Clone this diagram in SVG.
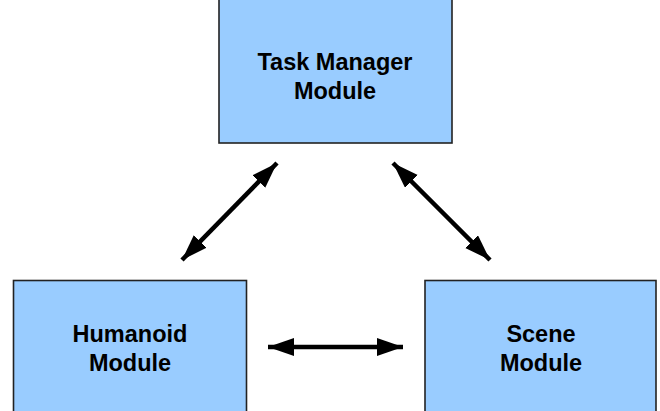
<svg xmlns="http://www.w3.org/2000/svg" width="660" height="411" viewBox="0 0 660 411">
<style>
.box{fill:#99ccff;stroke:#222;stroke-width:1.6}
.lbl{font-family:"Liberation Sans",Arial,sans-serif;font-weight:bold;font-size:23.5px;fill:#000;text-anchor:middle}
.conn{stroke:#000;stroke-width:4.5;fill:none;marker-start:url(#ah);marker-end:url(#ah)}
</style>
<defs>
<marker id="ah" markerUnits="userSpaceOnUse" markerWidth="27" markerHeight="19" refX="26" refY="9" orient="auto-start-reverse">
<path d="M0,0 L26,9 L0,18 z" fill="#000"/>
</marker>
</defs>
<rect width="660" height="411" fill="#fff"/>
<g id="task-manager">
<rect class="box" x="219" y="-5" width="233" height="148"/>
<text class="lbl" x="335" y="70">Task Manager</text>
<text class="lbl" x="335" y="99">Module</text>
</g>
<g id="humanoid">
<rect class="box" x="13.5" y="280.5" width="233" height="140"/>
<text class="lbl" x="130" y="342">Humanoid</text>
<text class="lbl" x="130" y="371">Module</text>
</g>
<g id="scene">
<rect class="box" x="425" y="280.5" width="231" height="140"/>
<text class="lbl" x="541" y="342">Scene</text>
<text class="lbl" x="541" y="371">Module</text>
</g>
<g id="connectors">
<line class="conn" x1="182" y1="260" x2="277" y2="163"/>
<line class="conn" x1="393" y1="163" x2="490" y2="260"/>
<line class="conn" x1="268" y1="347" x2="403" y2="347"/>
</g>
</svg>
